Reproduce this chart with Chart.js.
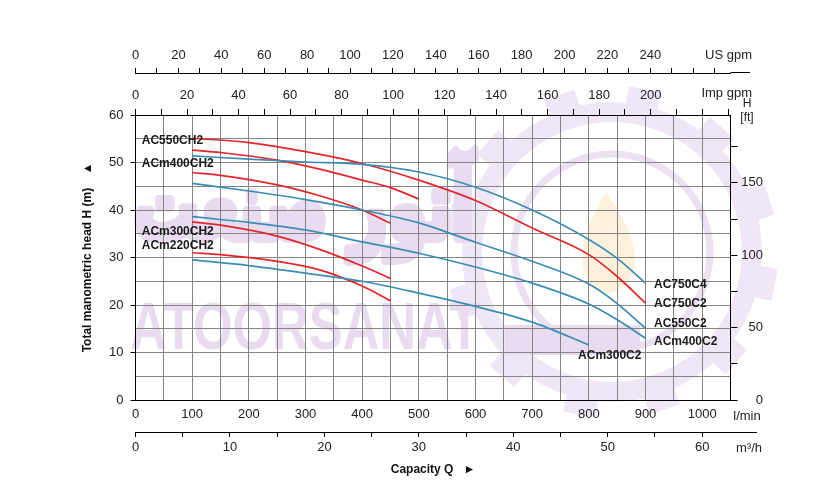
<!DOCTYPE html>
<html>
<head>
<meta charset="utf-8">
<script src="https://cdn.jsdelivr.net/npm/chart.js@4.4.1/dist/chart.umd.min.js"></script>
<style>
  body { margin: 0; background: #fff; }
  canvas { display: block; }
</style>
</head>
<body>
<canvas id="pumpChart" width="840" height="482"></canvas>
<script>
// capacity in l/min, head in m
const flowLong = [100, 200, 300, 400, 500, 600, 700, 800, 850, 900];
const headAC750C2 = [55.1, 54.2, 52.3, 49.8, 46.3, 42.0, 36.2, 30.6, 26.0, 20.4];
const headAC750C4 = [51.4, 50.7, 50.1, 49.6, 48.0, 44.8, 40.0, 33.8, 29.8, 24.6];
const headAC550C2 = [45.6, 44.0, 42.2, 40.0, 37.3, 33.2, 29.2, 24.4, 20.3, 15.1];
const headACm400C2 = [38.6, 37.4, 35.8, 33.3, 30.9, 28.0, 24.6, 20.2, 16.9, 13.0];

const flowACm300C2 = [100, 200, 300, 400, 500, 600, 700, 800];
const headACm300C2 = [29.5, 28.3, 26.7, 25.0, 22.5, 19.7, 16.4, 11.6];

const flowShort = [100, 150, 250, 325, 400, 450, 500];
const headAC550CH2 = [52.6, 52.1, 50.5, 48.6, 46.3, 44.7, 42.3];
const headACm400CH2 = [47.9, 47.3, 45.3, 43.0, 40.0, 37.2];
const headACm300CH2 = [37.5, 36.8, 34.5, 31.7, 28.2, 25.6];
const headACm220CH2 = [31.0, 30.6, 29.2, 27.4, 24.0, 20.9];

// curve names placed on the chart (l/min, m)
const curveLabels = [
  { text: "AC550CH2", q: 11, h: 54.5 },
  { text: "ACm400CH2", q: 11, h: 49.7 },
  { text: "ACm300CH2", q: 11, h: 35.4 },
  { text: "ACm220CH2", q: 11, h: 32.4 },
  { text: "AC750C4", q: 915, h: 24.2 },
  { text: "AC750C2", q: 915, h: 20.2 },
  { text: "AC550C2", q: 915, h: 16.0 },
  { text: "ACm400C2", q: 915, h: 12.2 },
  { text: "ACm300C2", q: 781, h: 9.3 },
];

const qMax = 1050;
const hMax = 60;
const US_GAL = 3.78541;
const IMP_GAL = 4.54609;
const FT = 3.28084;

const red = "#e2262b";
const blue = "#3b8db6";
const gridColor = "#858585";
const ink = "#222";
const fam = "'Liberation Sans', Arial, 'DejaVu Sans', sans-serif";
const tickFont = { family: fam, size: 13 };

function pts(qs, hs) {
  return hs.map((h, i) => ({ x: qs[i], y: h }));
}

function curve(qs, hs, color) {
  return {
    data: pts(qs, hs),
    borderColor: color,
    borderWidth: 1.7,
    pointRadius: 0,
    showLine: true,
    fill: false,
    cubicInterpolationMode: "monotone",
    xAxisID: "x",
    yAxisID: "y",
  };
}

// faint company logo behind the grid
const watermark = {
  id: "watermark",
  beforeDraw(chart) {
    const ctx = chart.ctx;
    ctx.save();
    ctx.fillStyle = "#fff";
    ctx.fillRect(0, 0, chart.width, chart.height);

    const lav = "#f0e7f6";
    const cx = 612, cy = 252;
    ctx.fillStyle = lav;
    ctx.beginPath();
    ctx.arc(cx, cy, 150, 0, Math.PI * 2);
    ctx.arc(cx, cy, 130, 0, Math.PI * 2, true);
    ctx.fill();
    for (let i = 0; i < 12; i++) {
      const a = (i / 12) * Math.PI * 2 + 0.2;
      ctx.save();
      ctx.translate(cx, cy);
      ctx.rotate(a);
      ctx.fillRect(140, -16, 26, 32);
      ctx.restore();
    }
    ctx.strokeStyle = "#ece1f3";
    ctx.lineWidth = 7;
    ctx.beginPath();
    ctx.arc(cx, cy, 98, 0, Math.PI * 2);
    ctx.stroke();

    // flame
    ctx.fillStyle = "#fdf1db";
    ctx.beginPath();
    ctx.moveTo(cx - 6, cy - 60);
    ctx.bezierCurveTo(cx + 30, cy - 10, cx + 34, cy + 30, cx - 4, cy + 42);
    ctx.bezierCurveTo(cx - 40, cy + 30, cx - 36, cy - 10, cx - 6, cy - 60);
    ctx.fill();

    ctx.fillStyle = "#e9dcf1";
    ctx.fillRect(505, 325, 135, 30);

    ctx.font = "bold 66px " + fam;
    ctx.textBaseline = "alphabetic";
    let w = ctx.measureText("ATOORSANAT").width;
    ctx.save();
    ctx.translate(130, 349);
    ctx.scale(350 / w, 1);
    ctx.fillText("ATOORSANAT", 0, 0);
    ctx.restore();

    ctx.font = "bold 84px 'DejaVu Sans', sans-serif";
    ctx.strokeStyle = "#e9dcf1";
    ctx.lineWidth = 9;
    ctx.lineJoin = "round";
    w = ctx.measureText("آتور صنعت").width;
    ctx.save();
    ctx.translate(134, 238);
    ctx.scale(340 / w, 1.1);
    ctx.strokeText("آتور صنعت", 0, 0);
    ctx.fillText("آتور صنعت", 0, 0);
    ctx.restore();
    ctx.restore();
  },
};

// unit names, curve names and axis-line overhangs
const annotations = {
  id: "annotations",
  afterDraw(chart) {
    const ctx = chart.ctx;
    const { x, y, us, imp, m3h } = chart.scales;
    ctx.save();
    ctx.strokeStyle = "#000";
    ctx.lineWidth = 1;
    ctx.beginPath();
    ctx.moveTo(us.right, Math.round(us.bottom) - 0.5);
    ctx.lineTo(750, Math.round(us.bottom) - 0.5);
    ctx.moveTo(x.right, Math.round(x.top) + 0.5);
    ctx.lineTo(737, Math.round(x.top) + 0.5);
    ctx.moveTo(m3h.right, Math.round(m3h.top) + 0.5);
    ctx.lineTo(757, Math.round(m3h.top) + 0.5);
    ctx.stroke();

    ctx.fillStyle = ink;
    ctx.textBaseline = "middle";
    ctx.font = "13px " + fam;
    ctx.textAlign = "right";
    ctx.fillText("US gpm", 752, us.bottom - 18);
    ctx.fillText("Imp gpm", 752, imp.bottom - 22);
    ctx.textAlign = "center";
    ctx.fillText("l/min", 747, x.top + 16);
    ctx.fillText("m³/h", 749, m3h.top + 16);
    ctx.font = "12px " + fam;
    ctx.fillText("H", 747, 104);
    ctx.fillText("[ft]", 747, 118);

    ctx.font = "bold 12px " + fam;
    ctx.textAlign = "left";
    ctx.fillStyle = "#1a1a1a";
    curveLabels.forEach((l) => {
      ctx.fillText(l.text, x.getPixelForValue(l.q), y.getPixelForValue(l.h));
    });
    ctx.restore();
  },
};

const axisTicks = (extra) =>
  Object.assign({ autoSkip: false, maxRotation: 0, color: ink, font: tickFont }, extra);

let ctx = document.getElementById("pumpChart");

let pumpChart = new Chart(ctx, {
  type: "scatter",
  data: {
    datasets: [
      curve(flowLong, headAC750C4, blue),
      curve(flowLong, headAC550C2, blue),
      curve(flowLong, headACm400C2, blue),
      curve(flowACm300C2, headACm300C2, blue),
      curve(flowLong, headAC750C2, red),
      curve(flowShort, headAC550CH2, red),
      curve(flowShort, headACm400CH2, red),
      curve(flowShort, headACm300CH2, red),
      curve(flowShort, headACm220CH2, red),
    ],
  },
  options: {
    responsive: false,
    animation: false,
    devicePixelRatio: 1,
    layout: { padding: { left: 0, top: 0, bottom: 0, right: 77 } },
    plugins: { legend: { display: false }, tooltip: { enabled: false } },
    scales: {
      x: {
        type: "linear",
        position: "bottom",
        weight: 0,
        min: 0,
        max: qMax,
        grid: { color: gridColor, drawTicks: false },
        border: { color: "#000" },
        ticks: axisTicks({
          stepSize: 50,
          padding: 7,
          callback: (v) => (v % 100 === 0 && v <= 1000 ? v : ""),
        }),
        afterFit: (s) => { s.height = 32; },
      },
      m3h: {
        type: "linear",
        position: "bottom",
        weight: 1,
        min: 0,
        max: (qMax * 60) / 1000,
        grid: { drawOnChartArea: false, tickLength: 5, tickColor: "#000" },
        border: { color: "#000" },
        ticks: axisTicks({
          stepSize: 5,
          includeBounds: false,
          padding: 3,
          callback: (v) => (v % 10 === 0 ? v : ""),
        }),
        title: {
          display: true,
          text: "Capacity Q   ►",
          color: "#111",
          font: { family: fam, size: 12, weight: "bold" },
          padding: { top: 0, bottom: 5 },
        },
        afterFit: (s) => { s.height = 50; },
      },
      imp: {
        type: "linear",
        position: "top",
        weight: 0,
        min: 0,
        max: qMax / IMP_GAL,
        grid: { drawOnChartArea: false, tickLength: 6, tickColor: "#000" },
        border: { color: "#000" },
        ticks: axisTicks({
          stepSize: 10,
          includeBounds: false,
          padding: 6,
          callback: (v) => (v % 20 === 0 && v <= 200 ? v : ""),
        }),
        afterFit: (s) => { s.height = 42; },
      },
      us: {
        type: "linear",
        position: "top",
        weight: 1,
        min: 0,
        max: qMax / US_GAL,
        grid: { drawOnChartArea: false, tickLength: 5, tickColor: "#000" },
        border: { color: "#000" },
        ticks: axisTicks({
          stepSize: 10,
          includeBounds: false,
          padding: 5,
          callback: (v) => (v % 20 === 0 && v <= 240 ? v : ""),
        }),
        afterFit: (s) => { s.height = 73; },
      },
      y: {
        type: "linear",
        position: "left",
        min: 0,
        max: hMax,
        grid: {
          color: gridColor,
          tickLength: 5,
          tickColor: (c) => (c.tick && c.tick.value % 10 === 0 ? "#000" : "rgba(0,0,0,0)"),
        },
        border: { color: "#000" },
        ticks: axisTicks({
          stepSize: 5,
          padding: 7,
          callback: (v) => (v % 10 === 0 ? v : ""),
        }),
        title: {
          display: true,
          text: "Total manometric head H (m)    ▲",
          color: "#111",
          font: { family: fam, size: 12, weight: "bold" },
          padding: { top: 80, bottom: 0 },
        },
        afterFit: (s) => { s.width = 135.5; },
      },
      ft: {
        type: "linear",
        position: "right",
        min: 0,
        max: hMax * FT,
        grid: { drawOnChartArea: false, tickLength: 7, tickColor: "#000" },
        border: { color: "#000" },
        ticks: axisTicks({
          stepSize: 25,
          includeBounds: false,
          padding: 3,
          crossAlign: "far",
          callback: (v) => (v % 50 === 0 ? v : ""),
        }),
        afterFit: (s) => { s.width = 32.5; },
      },
    },
  },
  plugins: [watermark, annotations],
});
</script>
</body>
</html>
